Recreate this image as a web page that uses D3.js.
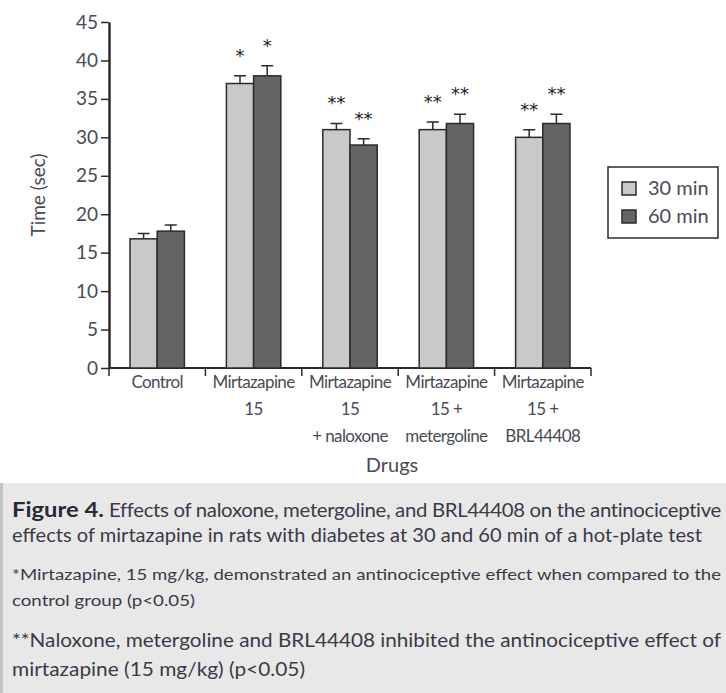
<!DOCTYPE html>
<html>
<head>
<meta charset="utf-8">
<script src="https://cdn.jsdelivr.net/npm/d3@7"></script>
<style>
  html, body { margin: 0; padding: 0; background: #fff; }
  svg { display: block; }
</style>
</head>
<body>
<script>
// data
const categories = ["Control", "Mirtazapine 15", "Mirtazapine 15 + naloxone", "Mirtazapine 15 + metergoline", "Mirtazapine 15 + BRL44408"]
const labelLines = [["Control"], ["Mirtazapine", "15"], ["Mirtazapine", "15", "+ naloxone"], ["Mirtazapine", "15 +", "metergoline"], ["Mirtazapine", "15 +", "BRL44408"]]
const series = ["30 min", "60 min"]
const mean30 = [16.8, 37.0, 31.0, 31.0, 30.0]
const mean60 = [17.8, 38.0, 29.0, 31.8, 31.8]
const err30 = [0.7, 1.0, 0.8, 1.0, 1.0]
const err60 = [0.8, 1.3, 0.8, 1.2, 1.2]
const stars30 = ["", "*", "**", "**", "**"]
const stars60 = ["", "*", "**", "**", "**"]
const yTicks = [0, 5, 10, 15, 20, 25, 30, 35, 40, 45]

const captionLines = [
  "effects of mirtazapine in rats with diabetes at 30 and 60 min of a hot-plate test",
  "*Mirtazapine, 15 mg/kg, demonstrated an antinociceptive effect when compared to the",
  "control group (p<0.05)",
  "**Naloxone, metergoline and BRL44408 inhibited the antinociceptive effect of",
  "mirtazapine (15 mg/kg) (p<0.05)"
]

const width = 726
const height = 693
const fills = ["#c8c9cb", "#646466"]
const ink = "#2b2b2b"
const labelColor = "#4a4a55"
const font = "Lato, 'Open Sans', sans-serif"

const rows = categories.map((c, i) => ({
  cat: c,
  lines: labelLines[i],
  vals: [
    { s: series[0], v: mean30[i], e: err30[i], star: stars30[i] },
    { s: series[1], v: mean60[i], e: err60[i], star: stars60[i] }
  ]
}))

const svg = d3.select("body").append("svg")
  .attr("width", width)
  .attr("height", height)

const x0 = d3.scaleBand().domain(categories).range([109, 591])
const x1 = d3.scaleBand().domain(series).range([21, x0.bandwidth() - 21])
const y = d3.scaleLinear().domain([0, 45]).range([368, 22])

// y axis
const yAxis = svg.append("g")
  .attr("transform", "translate(109,0)")
  .call(d3.axisLeft(y).tickValues(yTicks).tickSize(8).tickSizeOuter(0).tickPadding(3))
yAxis.select(".domain").attr("stroke", ink).attr("stroke-width", 2.5)
yAxis.selectAll(".tick line").attr("stroke", ink).attr("stroke-width", 1.5)
yAxis.selectAll(".tick text")
  .attr("fill", labelColor)
  .style("font-family", font)
  .style("font-size", "19px")

svg.append("text")
  .attr("transform", `translate(45,${y(22.5)}) rotate(-90)`)
  .attr("text-anchor", "middle")
  .attr("fill", labelColor)
  .style("font-family", font)
  .style("font-size", "19px")
  .text("Time (sec)")

// x axis with ticks at group boundaries
const xr = x0.range()
svg.append("line")
  .attr("x1", xr[0]).attr("x2", xr[1])
  .attr("y1", y(0)).attr("y2", y(0))
  .attr("stroke", ink).attr("stroke-width", 2)
const bounds = categories.map(c => x0(c)).concat([xr[1]])
svg.append("g").selectAll("line")
  .data(bounds)
  .join("line")
  .attr("x1", d => d).attr("x2", d => d)
  .attr("y1", y(0)).attr("y2", y(0) + 8)
  .attr("stroke", ink).attr("stroke-width", 1.5)

// category labels
const labels = svg.append("g").selectAll("text")
  .data(rows)
  .join("text")
  .attr("text-anchor", "middle")
  .attr("fill", labelColor)
  .style("font-family", font)
  .style("font-size", "17px")
  .style("letter-spacing", "-0.6px")
labels.selectAll("tspan")
  .data(d => d.lines.map(l => ({ l, cx: x0(d.cat) + x0.bandwidth() / 2 })))
  .join("tspan")
  .attr("x", d => d.cx)
  .attr("y", (d, i) => 388 + i * 27)
  .text(d => d.l)

svg.append("text")
  .attr("x", 392)
  .attr("y", 472)
  .attr("text-anchor", "middle")
  .attr("fill", labelColor)
  .style("font-family", font)
  .style("font-size", "20px")
  .text("Drugs")

// bars
const groups = svg.append("g").selectAll("g")
  .data(rows)
  .join("g")
  .attr("transform", d => `translate(${x0(d.cat)},0)`)

// error bars (upper only)
groups.selectAll("path.err")
  .data(d => d.vals)
  .join("path")
  .attr("class", "err")
  .attr("fill", "none")
  .attr("stroke", ink)
  .attr("stroke-width", 1.5)
  .attr("d", d => {
    const cx = x1(d.s) + x1.bandwidth() / 2
    return `M${cx},${y(d.v)}V${y(d.v + d.e)}M${cx - 6},${y(d.v + d.e)}H${cx + 6}`
  })

groups.selectAll("rect")
  .data(d => d.vals)
  .join("rect")
  .attr("x", d => x1(d.s))
  .attr("width", x1.bandwidth())
  .attr("y", d => y(d.v))
  .attr("height", d => y(0) - y(d.v))
  .attr("fill", (d, i) => fills[i])
  .attr("stroke", ink)
  .attr("stroke-width", 1.5)

groups.selectAll("text.star")
  .data(d => d.vals)
  .join("text")
  .attr("class", "star")
  .attr("x", d => x1(d.s) + x1.bandwidth() / 2)
  .attr("y", d => y(d.v + d.e) - 14)
  .attr("text-anchor", "middle")
  .attr("fill", "#222")
  .style("font-family", "'DejaVu Sans', sans-serif")
  .style("font-size", "18px")
  .text(d => d.star)

// legend
const legend = svg.append("g")
legend.append("rect")
  .attr("x", 608).attr("y", 167)
  .attr("width", 110).attr("height", 71)
  .attr("fill", "#fff")
  .attr("stroke", ink)
  .attr("stroke-width", 1.5)
const li = legend.selectAll("g.item")
  .data(series)
  .join("g")
  .attr("class", "item")
  .attr("transform", (d, i) => `translate(622,${182 + i * 28})`)
li.append("rect")
  .attr("width", 14).attr("height", 13)
  .attr("fill", (d, i) => fills[i])
  .attr("stroke", ink)
  .attr("stroke-width", 1.5)
li.append("text")
  .attr("x", 26).attr("y", 13)
  .attr("fill", labelColor)
  .style("font-family", font)
  .style("font-size", "20px")
  .text(d => d)

// caption box
const cap = svg.append("g")
cap.append("rect")
  .attr("x", 0).attr("y", 483)
  .attr("width", width).attr("height", height - 483)
  .attr("fill", "#e8e8e8")
cap.append("rect")
  .attr("x", 0).attr("y", 483)
  .attr("width", 3).attr("height", height - 483)
  .attr("fill", "#c4c4c4")

cap.append("text")
  .attr("x", 12).attr("y", 517)
  .attr("fill", "#2a2a35")
  .attr("textLength", 92)
  .attr("lengthAdjust", "spacingAndGlyphs")
  .style("font-family", font)
  .style("font-weight", "bold")
  .style("font-size", "20px")
  .text("Figure 4.")
cap.append("text")
  .attr("x", 109).attr("y", 517)
  .attr("fill", "#3a3a48")
  .attr("textLength", 612)
  .attr("lengthAdjust", "spacingAndGlyphs")
  .style("font-family", font)
  .style("font-size", "19px")
  .style("letter-spacing", "-0.3px")
  .text("Effects of naloxone, metergoline, and BRL44408 on the antinociceptive")

const capStyle = [
  { y: 542, size: 20, len: 690 },
  { y: 580, size: 16, len: 709 },
  { y: 606, size: 16, len: 183 },
  { y: 647, size: 19, len: 709 },
  { y: 676, size: 19, len: 293 }
]
cap.selectAll("text.cl")
  .data(captionLines)
  .join("text")
  .attr("class", "cl")
  .attr("x", 12)
  .attr("y", (d, i) => capStyle[i].y)
  .attr("fill", "#3a3a48")
  .attr("textLength", (d, i) => capStyle[i].len)
  .attr("lengthAdjust", "spacingAndGlyphs")
  .style("font-family", font)
  .style("font-size", (d, i) => capStyle[i].size + "px")
  .text(d => d)
</script>
</body>
</html>
